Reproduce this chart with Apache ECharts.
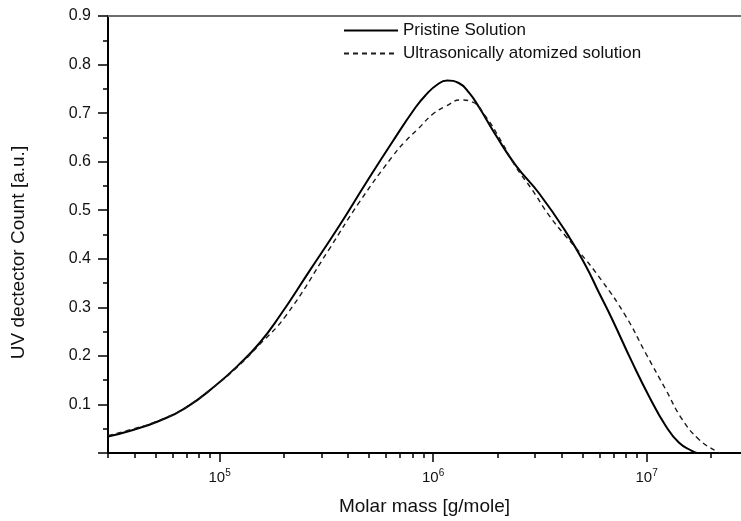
<!DOCTYPE html>
<html lang="en">
<head>
    <meta charset="utf-8">
    <title>UV detector count vs molar mass</title>
    <script src="https://cdn.jsdelivr.net/npm/echarts@6/dist/echarts.min.js"></script>
    <style>
        html, body { margin: 0; padding: 0; background: #fff; }
        #main { width: 741px; height: 521px; }
    </style>
</head>
<body>
    <div id="main"></div>
<script>
    // log10 of molar mass [g/mole] and detector count
    var pristineLogM = [4.4771, 4.59, 4.716, 4.841, 4.981, 5.09, 5.184, 5.278, 5.418, 5.559, 5.684, 5.808, 5.918, 5.965, 6.02, 6.066, 6.12, 6.17, 6.215, 6.293, 6.386, 6.496, 6.621, 6.714, 6.777, 6.839, 6.933, 7.011, 7.089, 7.152, 7.214, 7.235];
    var pristineUV = [0.034, 0.047, 0.066, 0.093, 0.139, 0.182, 0.225, 0.280, 0.373, 0.467, 0.555, 0.640, 0.712, 0.737, 0.759, 0.767, 0.762, 0.741, 0.712, 0.655, 0.593, 0.535, 0.456, 0.386, 0.330, 0.275, 0.186, 0.117, 0.056, 0.021, 0.004, 0.0];

    var atomizedLogM = [4.4771, 4.59, 4.716, 4.841, 4.981, 5.09, 5.184, 5.309, 5.512, 5.652, 5.808, 5.87, 5.933, 5.996, 6.059, 6.13, 6.183, 6.246, 6.324, 6.386, 6.464, 6.542, 6.62, 6.683, 6.79, 6.902, 6.995, 7.089, 7.167, 7.245, 7.324, 7.345];
    var atomizedUV = [0.036, 0.049, 0.067, 0.094, 0.139, 0.180, 0.222, 0.282, 0.419, 0.515, 0.610, 0.642, 0.669, 0.697, 0.714, 0.727, 0.723, 0.693, 0.638, 0.590, 0.542, 0.490, 0.447, 0.415, 0.355, 0.282, 0.206, 0.131, 0.069, 0.028, 0.004, 0.0];

    var seriesNames = ['Pristine Solution', 'Ultrasonically atomized solution'];

    // decades shown on the log axis
    var majorExps = [5, 6, 7];
    var xMin = 4.4771;  // 3e4
    var xMax = 7.442;

    // minor log ticks 2..9 x 10^n
    var minorTicks = [];
    for (var n = 4; n <= 7; n++) {
        for (var k = 2; k <= 9; k++) {
            var v = n + Math.log10(k);
            if (v >= xMin - 1e-6 && v <= xMax) minorTicks.push(v);
        }
    }

    function pairs(xs, ys) {
        var out = [];
        for (var i = 0; i < xs.length; i++) out.push([xs[i], ys[i]]);
        return out;
    }

    var font = 'Liberation Sans, Arial, sans-serif';
    var myChart = echarts.init(document.getElementById('main'));

    var option = {
        backgroundColor: '#fff',
        animation: false,
        textStyle: { fontFamily: font, color: '#111' },
        grid: { left: 108, top: 16, right: 0, bottom: 68 },
        legend: {
            orient: 'vertical',
            left: 343,
            top: 22,
            padding: 0,
            itemWidth: 54,
            itemHeight: 14,
            itemGap: 6,
            itemStyle: { opacity: 0 },
            textStyle: { fontSize: 17, color: '#111', fontFamily: font },
            data: seriesNames
        },
        xAxis: [{
            type: 'value',
            min: xMin,
            max: xMax,
            position: 'bottom',
            name: 'Molar mass [g/mole]',
            nameLocation: 'middle',
            nameGap: 44,
            nameTextStyle: { fontSize: 19, color: '#111', fontFamily: font },
            axisLine: { show: true, lineStyle: { color: '#000', width: 2 } },
            axisTick: { show: true, length: 9, customValues: majorExps, lineStyle: { color: '#000', width: 1.5 } },
            axisLabel: {
                customValues: majorExps,
                margin: 15,
                formatter: function (v) { return '{b|10}{s|' + Math.round(v) + '}'; },
                rich: {
                    b: { fontSize: 15, color: '#111', fontFamily: font },
                    s: { fontSize: 10, color: '#111', fontFamily: font, padding: [0, 0, 9, 0] }
                }
            },
            splitLine: { show: false }
        }, {
            type: 'value',
            min: xMin,
            max: xMax,
            position: 'top',
            axisLine: { show: true, lineStyle: { color: '#6e6e6e', width: 2 } },
            axisTick: { show: false },
            axisLabel: { show: false },
            splitLine: { show: false }
        }, {
            type: 'value',
            min: xMin,
            max: xMax,
            position: 'bottom',
            axisLine: { show: false },
            axisTick: { show: true, length: 5, customValues: minorTicks, lineStyle: { color: '#000', width: 1.5 } },
            axisLabel: { show: false },
            splitLine: { show: false }
        }],
        yAxis: {
            type: 'value',
            min: 0,
            max: 0.9,
            interval: 0.1,
            name: 'UV dectector Count [a.u.]',
            nameLocation: 'middle',
            nameRotate: 90,
            nameGap: 80,
            nameTextStyle: { fontSize: 19, color: '#111', fontFamily: font, padding: [0, 36, 0, 0] },
            axisLine: { show: true, lineStyle: { color: '#000', width: 2 } },
            axisTick: { show: true, length: 10, lineStyle: { color: '#000', width: 1.5 } },
            minorTick: { show: true, splitNumber: 2, length: 5, lineStyle: { color: '#000', width: 1.5 } },
            axisLabel: {
                margin: 17,
                fontSize: 16,
                color: '#111',
                fontFamily: font,
                formatter: function (v) { return v === 0 ? '' : v.toFixed(1); }
            },
            splitLine: { show: false }
        },
        series: [{
            name: seriesNames[0],
            type: 'line',
            xAxisIndex: 0,
            data: pairs(pristineLogM, pristineUV),
            symbol: 'none',
            smooth: 0.5,
            lineStyle: { color: '#000', width: 2 },
            itemStyle: { color: '#000' }
        }, {
            name: seriesNames[1],
            type: 'line',
            xAxisIndex: 0,
            data: pairs(atomizedLogM, atomizedUV),
            symbol: 'none',
            smooth: 0.5,
            lineStyle: { color: '#1a1a1a', width: 1.4, type: [5, 4] },
            itemStyle: { color: '#1a1a1a' }
        }]
    };
    myChart.setOption(option);
</script>
</body>
</html>
